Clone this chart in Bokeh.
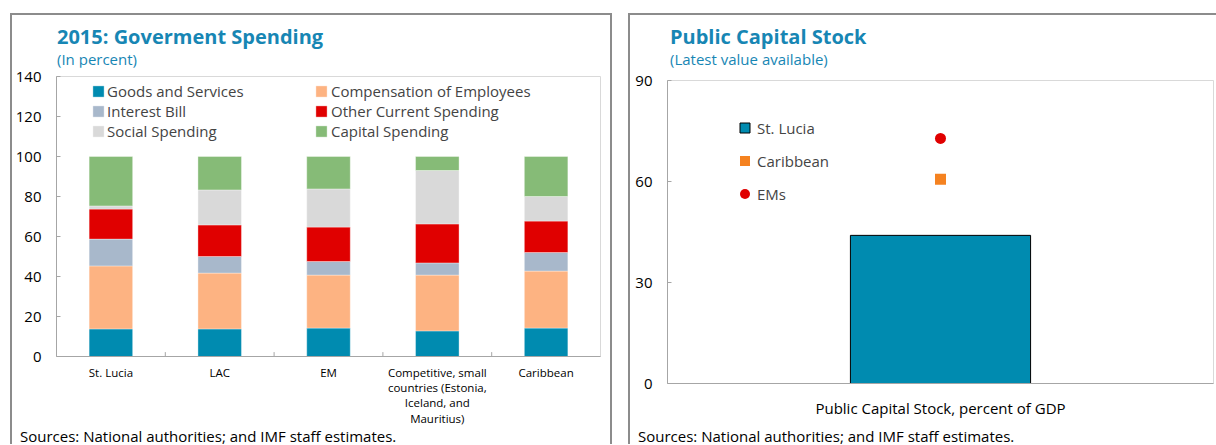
from bokeh.plotting import figure
from bokeh.models import (FactorRange, Range1d, Legend, LegendItem, Div,
                          FixedTicker, ColumnDataSource)
from bokeh.layouts import row, column
from bokeh.embed import file_html
from bokeh.resources import INLINE

# ---------------- data ----------------
categories = ["St. Lucia", "LAC", "EM",
              "Competitive, small\ncountries (Estonia,\nIceland, and\nMauritius)",
              "Caribbean"]
series_names = ["Goods and Services", "Compensation of Employees", "Interest Bill",
                "Other Current Spending", "Social Spending", "Capital Spending"]
goods = [13.8, 13.8, 14.2, 12.8, 14.2]
compensation = [31.5, 27.9, 26.5, 27.9, 28.5]
interest = [13.4, 8.3, 6.8, 6.1, 9.3]
other_current = [15.0, 15.8, 17.2, 19.5, 15.7]
social = [1.6, 17.5, 19.1, 26.7, 12.3]
capital = [24.7, 16.7, 16.2, 7.0, 20.0]
left_ticks = [0, 20, 40, 60, 80, 100, 120, 140]

stock_category = ["Public Capital Stock, percent of GDP"]
stock_st_lucia = [44.0]
stock_caribbean = [60.7]
stock_ems = [72.8]
right_ticks = [0, 30, 60, 90]

FONT = "Open Sans"
TITLE_COLOR = "#1786B4"
colors = ["#008BB0", "#FDB382", "#A8B8CB", "#E00000", "#D9D9D9", "#86BB77"]
BOX = "2px solid #8C8C8C"
SOURCE = "Sources: National authorities; and IMF staff estimates."


def style_axes(p):
    for ax in (p.xaxis, p.yaxis):
        ax.axis_line_color = "#A6A6A6"
        ax.major_tick_line_color = "#A6A6A6"
        ax.minor_tick_line_color = None
        ax.major_label_text_font = FONT
        ax.major_label_text_color = "#000000"
    p.yaxis.major_tick_in = 4
    p.yaxis.major_tick_out = 0
    p.yaxis.major_label_text_font_size = "15px"
    p.yaxis.major_label_standoff = 15
    p.xaxis.major_tick_line_color = None
    p.xaxis.major_tick_in = 0
    p.xaxis.major_tick_out = 0
    p.grid.grid_line_color = None
    p.outline_line_color = "#D9D9D9"


def title_div(main, sub, pad_left, width):
    html = (
        f'<div style="font-family:\'{FONT}\';font-weight:bold;font-size:20px;'
        f'line-height:20px;color:{TITLE_COLOR};padding:12px 0 0 {pad_left}px;'
        f'margin:0;white-space:nowrap;">{main}</div>'
        f'<div style="font-family:\'{FONT}\';font-size:15px;line-height:18px;'
        f'color:{TITLE_COLOR};padding:3px 0 0 {pad_left}px;margin:0;'
        f'white-space:nowrap;">{sub}</div>')
    return Div(text=html, width=width, height=52, margin=0)


def source_div(pad_left, width):
    html = (f'<div style="font-family:\'{FONT}\';font-size:15px;line-height:16px;'
            f'color:#000000;padding:0 0 0 {pad_left}px;margin:0;'
            f'white-space:nowrap;">{SOURCE}</div>')
    return Div(text=html, width=width, height=16, margin=0)


# ---------------- left panel ----------------
LW = 598
src = ColumnDataSource(dict(cat=categories, g=goods, c=compensation, i=interest,
                            o=other_current, s=social, k=capital))
left = figure(x_range=FactorRange(*categories), y_range=Range1d(0, 140),
              width=LW, height=361, output_backend="svg", toolbar_location=None,
              min_border_left=43, min_border_right=10, min_border_top=9,
              min_border_bottom=72, margin=0)
rs = left.vbar_stack(["g", "c", "i", "o", "s", "k"], x="cat", width=0.4,
                     fill_color=colors, line_color="#FFFFFF", line_width=0.6,
                     line_alpha=0.6, source=src)
bounds = list(range(1, len(categories)))
left.segment(x0=bounds, y0=[0] * len(bounds), x1=bounds, y1=[2.2] * len(bounds),
             line_color="#A6A6A6", line_width=1)
style_axes(left)
left.yaxis.ticker = FixedTicker(ticks=left_ticks)
left.xaxis.major_label_text_font_size = "11.5px"
left.xaxis.major_label_text_line_height = 1.03
left.xaxis.major_label_standoff = 8


def make_legend(items, loc, standoff):
    return Legend(items=items, location=loc, orientation="vertical",
                  glyph_width=14, glyph_height=14, label_height=20, spacing=0,
                  padding=0, margin=0, label_standoff=standoff,
                  border_line_color=None, background_fill_alpha=0,
                  label_text_font=FONT, label_text_font_size="15px")


left.add_layout(make_legend([LegendItem(label=series_names[j], renderers=[rs[j]])
                             for j in (0, 2, 4)], (35, 215), 2))
left.add_layout(make_legend([LegendItem(label=series_names[j], renderers=[rs[j]])
                             for j in (1, 3, 5)], (258, 215), 3))

left_panel = column(title_div("2015: Goverment Spending", "(In percent)", 45, LW),
                    left, source_div(8, LW),
                    margin=(13, 0, 0, 10),
                    styles={"border-top": BOX, "border-left": BOX, "border-right": BOX})

# ---------------- right panel ----------------
RW = 586
right = figure(x_range=FactorRange(*stock_category), y_range=Range1d(0, 90),
               width=RW, height=361, output_backend="svg", toolbar_location=None,
               min_border_left=37, min_border_right=3, min_border_top=13,
               min_border_bottom=45, margin=0)
right.vbar(x=stock_category, top=stock_st_lucia, width=0.33, fill_color="#008BB0",
           line_color="#000000", line_width=1)
r_car = right.scatter(x=stock_category, y=stock_caribbean, marker="square", size=11,
                      fill_color="#F58220", line_color=None)
r_em = right.scatter(x=stock_category, y=stock_ems, marker="circle", size=11,
                     fill_color="#E00000", line_color=None)
# legend-only proxy for the St. Lucia bar (not drawn in the plot area)
proxy = right.scatter(x=stock_category, y=[float("nan")], marker="square", size=10,
                      fill_color="#008BB0", line_color="#000000", line_width=1)
style_axes(right)
right.yaxis.ticker = FixedTicker(ticks=right_ticks)
right.xaxis.major_label_text_font_size = "15px"
right.xaxis.major_label_standoff = 14

right.add_layout(Legend(items=[LegendItem(label="St. Lucia", renderers=[proxy]),
                               LegendItem(label="Caribbean", renderers=[r_car]),
                               LegendItem(label="EMs", renderers=[r_em])],
                        location=(65, 177), glyph_width=25, glyph_height=25,
                        label_height=20, spacing=8, padding=0, margin=0,
                        label_standoff=0, border_line_color=None,
                        background_fill_alpha=0, label_text_font=FONT,
                        label_text_font_size="15px"))

right_panel = column(title_div("Public Capital Stock", "(Latest value available)", 40, RW),
                     right, source_div(8, RW),
                     margin=(13, 0, 0, 16),
                     styles={"border-top": BOX, "border-left": BOX})

layout = row(left_panel, right_panel)
open("out.html", "w").write(file_html(layout, INLINE))
